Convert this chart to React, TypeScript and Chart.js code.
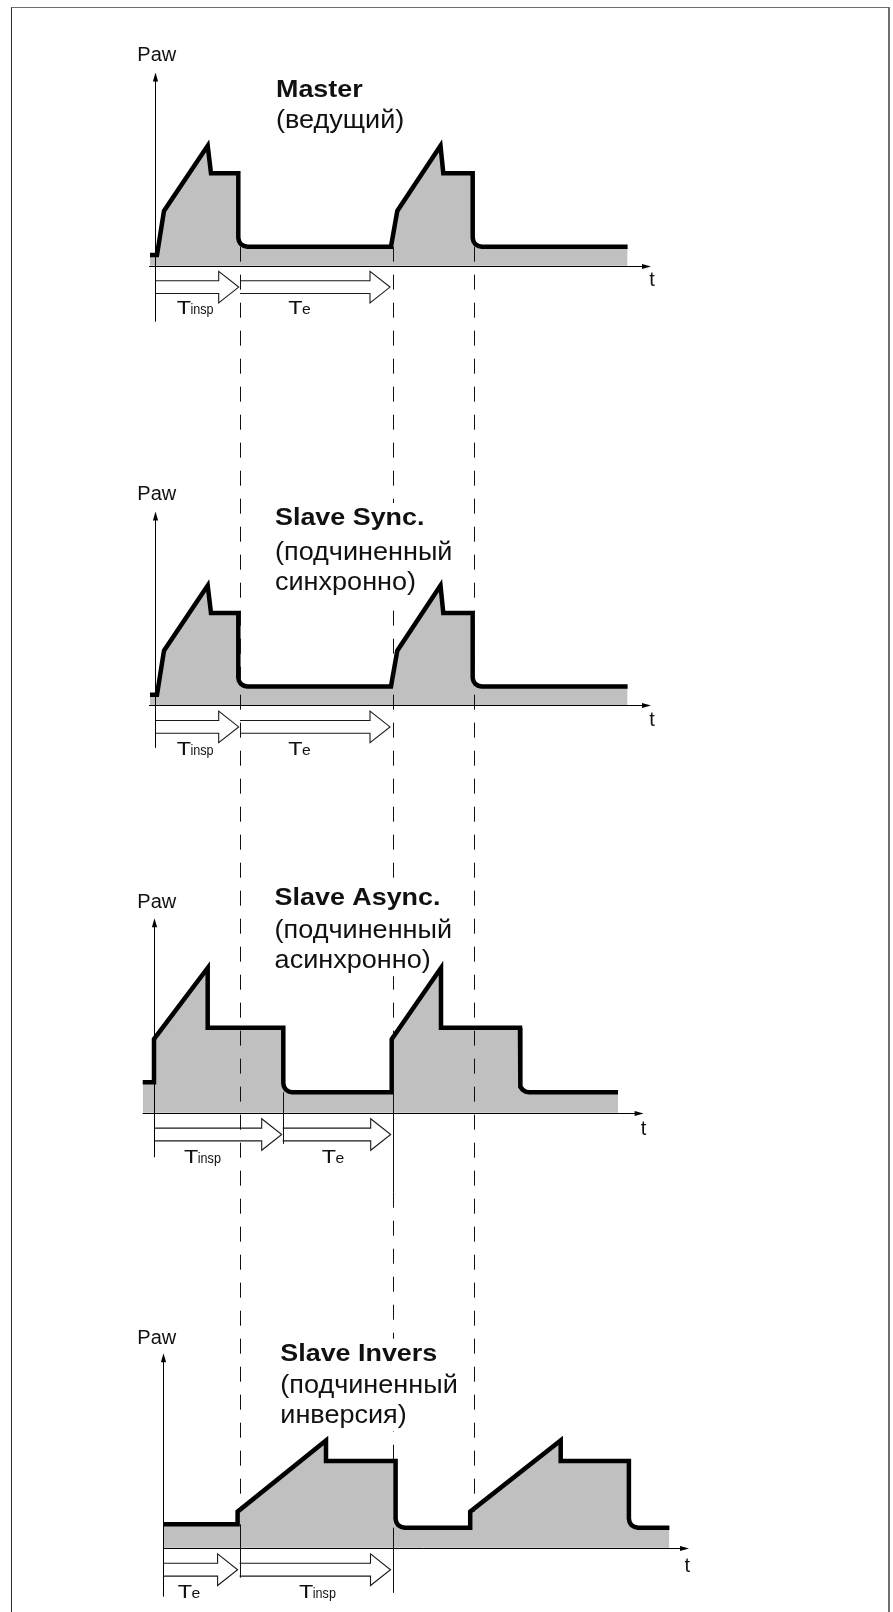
import React, { useEffect, useRef } from "react";
import { Chart, registerables } from "chart.js";

Chart.register(...registerables);

// ---------------- DATA (time t and airway pressure Paw, arbitrary units) ----------------
const masterTime = [-0.05, 0.02, 0.09, 0.527, 0.56, 0.833, 0.833, 0.84, 0.859, 0.889, 0.923, 2.36, 2.423, 2.855, 2.883, 3.177, 3.177, 3.184, 3.203, 3.233, 3.267, 4.726];
const masterPaw = [2.7, 2.7, 13.7, 30.0, 23.1, 23.1, 7.0, 6.15, 5.4, 4.93, 4.75, 4.75, 13.7, 30.0, 23.1, 23.1, 7.0, 6.15, 5.4, 4.93, 4.75, 4.75];

const slaveSyncTime = [-0.05, 0.02, 0.09, 0.527, 0.56, 0.833, 0.833, 0.84, 0.859, 0.889, 0.923, 2.36, 2.423, 2.855, 2.883, 3.177, 3.177, 3.184, 3.203, 3.233, 3.267, 4.726];
const slaveSyncPaw = [2.7, 2.7, 13.7, 30.0, 23.1, 23.1, 7.0, 6.15, 5.4, 4.93, 4.75, 4.75, 13.7, 30.0, 23.1, 23.1, 7.0, 6.15, 5.4, 4.93, 4.75, 4.75];

const slaveAsyncTime = [-0.123, -0.01, -0.01, 0.527, 0.527, 1.283, 1.283, 1.29, 1.309, 1.339, 1.373, 2.367, 2.367, 2.86, 2.86, 3.65, 3.65, 3.657, 3.676, 3.706, 3.74, 4.63];
const slaveAsyncPaw = [7.6, 7.6, 18.4, 36.2, 21.25, 21.25, 7.35, 6.5, 5.75, 5.28, 5.1, 5.1, 18.4, 36.2, 21.25, 21.25, 7.35, 6.5, 5.75, 5.28, 5.1, 5.1];

const slaveInversTime = [0.083, 0.826, 0.826, 1.71, 1.71, 2.406, 2.406, 2.413, 2.432, 2.462, 2.496, 3.152, 3.152, 4.057, 4.057, 4.739, 4.739, 4.746, 4.765, 4.795, 4.829, 5.144];
const slaveInversPaw = [5.85, 5.85, 9.0, 26.8, 21.7, 21.7, 7.25, 6.4, 5.65, 5.18, 5.0, 5.0, 9.0, 26.8, 21.7, 21.7, 7.25, 6.4, 5.65, 5.18, 5.0, 5.0];

// Phase spans shown by the hollow arrows: [start, end] in time units
const masterSpans = [[0.01, 0.837], [0.85, 2.35]];
const slaveSyncSpans = [[0.01, 0.837], [0.85, 2.35]];
const slaveAsyncSpans = [[-0.01, 1.267], [1.277, 2.357]];
const slaveInversSpans = [[0.083, 0.826], [0.846, 2.355]];

// Span labels: main letter + small suffix
const masterSpanLabels = [["T", "insp"], ["T", "e"]];
const slaveSyncSpanLabels = [["T", "insp"], ["T", "e"]];
const slaveAsyncSpanLabels = [["T", "insp"], ["T", "e"]];
const slaveInversSpanLabels = [["T", "e"], ["T", "insp"]];

// Panel titles
const panelTitles = ["Master", "Slave Sync.", "Slave Async.", "Slave Invers"];
const panelSubtitles = [
  ["(ведущий)"],
  ["(подчиненный", "синхронно)"],
  ["(подчиненный", "асинхронно)"],
  ["(подчиненный", "инверсия)"],
];
const yAxisLabel = "Paw";
const xAxisLabel = "t";

// Vertical synchronisation guides: time, from [panel, Paw] to [panel, Paw], dashed?
const guideTimes = [0.85, 2.375, 3.185, 1.277];
const guideSegments = [
  { g: 0, from: [0, 4.75], to: [3, 9.0], dashed: true },
  { g: 0, from: [3, 5.85], to: [3, -7.5], dashed: false },
  { g: 1, from: [0, 4.75], to: [2, 18.4], dashed: true },
  { g: 1, from: [2, 5.1], to: [2, -20], dashed: false },
  { g: 1, from: [2, -20], to: [3, 21.7], dashed: true },
  { g: 1, from: [3, 5.0], to: [3, -11.3], dashed: false },
  { g: 2, from: [0, 4.75], to: [3, 9.0], dashed: true },
  { g: 3, from: [2, 5.1], to: [2, -7.8], dashed: false },
];

// ---------------- LAYOUT ----------------
const W = 893;
const H = 1612;
const PX_PER_T = 100;
const T_AT_LEFT = -1.55;
const PX_PER_P = 4;
const panelAxisPx = [265.7, 705.5, 1112.7, 1547.7];

const panelLayout = [
  { yAxisT: 0, axisTopP: 48.3, axisBottomP: -14, xAxisFrom: -0.06, xAxisTo: 4.96, arrowP: -5.35, labelP: -12.15, labelT: [0.217, 1.333], tLabel: [4.943, -5.1], pawP: 51.2, titleT: 1.21, titleP: [42.25, 34.35] },
  { yAxisT: 0, axisTopP: 48.5, axisBottomP: -10.6, xAxisFrom: -0.06, xAxisTo: 4.96, arrowP: -5.35, labelP: -12.3, labelT: [0.217, 1.333], tLabel: [4.943, -5.1], pawP: 51.4, titleT: 1.2, titleP: [45.1, 36.4, 28.9] },
  { yAxisT: -0.01, axisTopP: 48.6, axisBottomP: -11.15, xAxisFrom: -0.123, xAxisTo: 4.886, arrowP: -5.45, labelP: -12.5, labelT: [0.29, 1.667], tLabel: [4.857, -5.6], pawP: 51.25, titleT: 1.196, titleP: [51.9, 43.6, 36.1] },
  { yAxisT: 0.083, axisTopP: 48.6, axisBottomP: -12.25, xAxisFrom: 0.083, xAxisTo: 5.34, arrowP: -5.5, labelP: -12.65, labelT: [0.227, 1.44], tLabel: [5.295, -6.0], pawP: 50.85, titleT: 1.253, titleP: [46.75, 38.6, 31.1] },
];

const FONT = "'Liberation Sans', Arial, Helvetica, sans-serif";
const INK = "#111";
const FILL_GRAY = "#c0c0c0";
const TITLE_FONT = `bold 24px ${FONT}`;
const TITLE_SX = 1.12;
const SUB_FONT = `26px ${FONT}`;
const SUB_SX = 1.04;

const panelTimes = [masterTime, slaveSyncTime, slaveAsyncTime, slaveInversTime];
const panelPaws = [masterPaw, slaveSyncPaw, slaveAsyncPaw, slaveInversPaw];
const panelSpans = [masterSpans, slaveSyncSpans, slaveAsyncSpans, slaveInversSpans];
const panelSpanLabels = [masterSpanLabels, slaveSyncSpanLabels, slaveAsyncSpanLabels, slaveInversSpanLabels];

function drawText(ctx, str, x, y, font, sx) {
  ctx.save();
  ctx.font = font;
  ctx.translate(x, y);
  ctx.scale(sx, 1);
  ctx.fillText(str, 0, 0);
  const w = ctx.measureText(str).width * sx;
  ctx.restore();
  return w;
}

function textWidth(ctx, str, font, sx) {
  ctx.save();
  ctx.font = font;
  const w = ctx.measureText(str).width * sx;
  ctx.restore();
  return w;
}

const diagramPlugin = {
  id: "ventDiagram",
  afterDatasetsDraw(chart) {
    const ctx = chart.ctx;
    const xs = chart.scales.x;
    const X = (t) => xs.getPixelForValue(t);
    const Y = (i, p) => chart.scales["y" + i].getPixelForValue(p);
    const crisp = (v) => Math.round(v) + 0.5;

    ctx.save();
    ctx.textBaseline = "alphabetic";
    ctx.textAlign = "left";

    panelLayout.forEach((L, i) => {
      // hollow span arrows
      const yc = Y(i, L.arrowP);
      ctx.strokeStyle = "#1a1a1a";
      ctx.lineWidth = 1.1;
      ctx.setLineDash([]);
      panelSpans[i].forEach(([a, b]) => {
        const x0 = X(a);
        const x1 = X(b);
        const bh = 6.4, hh = 15.8, hl = 20;
        ctx.beginPath();
        ctx.moveTo(x0, yc - bh);
        ctx.lineTo(x1 - hl, yc - bh);
        ctx.lineTo(x1 - hl, yc - hh);
        ctx.lineTo(x1, yc);
        ctx.lineTo(x1 - hl, yc + hh);
        ctx.lineTo(x1 - hl, yc + bh);
        ctx.lineTo(x0, yc + bh);
        ctx.fillStyle = "#fff";
        ctx.fill();
        ctx.stroke();
      });

      // axes
      ctx.strokeStyle = "#000";
      ctx.fillStyle = "#000";
      ctx.lineWidth = 1;
      const ax = crisp(X(L.yAxisT));
      const yTop = Y(i, L.axisTopP);
      ctx.beginPath();
      ctx.moveTo(ax, Y(i, L.axisBottomP));
      ctx.lineTo(ax, yTop + 6);
      ctx.stroke();
      ctx.beginPath();
      ctx.moveTo(ax, yTop);
      ctx.lineTo(ax - 2.6, yTop + 9);
      ctx.lineTo(ax + 2.6, yTop + 9);
      ctx.closePath();
      ctx.fill();

      const ay = crisp(Y(i, 0));
      const xEnd = X(L.xAxisTo);
      ctx.beginPath();
      ctx.moveTo(X(L.xAxisFrom), ay);
      ctx.lineTo(xEnd - 6, ay);
      ctx.stroke();
      ctx.beginPath();
      ctx.moveTo(xEnd, ay);
      ctx.lineTo(xEnd - 9, ay - 2.6);
      ctx.lineTo(xEnd - 9, ay + 2.6);
      ctx.closePath();
      ctx.fill();
    });

    // title blocks: guides are hidden behind the title text
    const blocks = panelLayout.map((L, i) => {
      const tx = X(L.titleT);
      let w = textWidth(ctx, panelTitles[i], TITLE_FONT, TITLE_SX);
      panelSubtitles[i].forEach((line) => {
        w = Math.max(w, textWidth(ctx, line, SUB_FONT, SUB_SX));
      });
      const top = Y(i, L.titleP[0]) - 22;
      const bottom = Y(i, L.titleP[L.titleP.length - 1]) + 8;
      return [tx - 3, top, w + 6, bottom - top];
    });

    ctx.save();
    ctx.beginPath();
    ctx.rect(0, 0, chart.width, chart.height);
    blocks.forEach(([bx, by, bw, bh]) => ctx.rect(bx, by, bw, bh));
    ctx.clip("evenodd");

    // synchronisation guides
    ctx.strokeStyle = "#111";
    ctx.lineWidth = 1;
    guideSegments.forEach((s) => {
      ctx.setLineDash(s.dashed ? [15, 13] : []);
      const x = crisp(X(guideTimes[s.g]));
      ctx.beginPath();
      ctx.moveTo(x, Y(s.from[0], s.from[1]));
      ctx.lineTo(x, Y(s.to[0], s.to[1]));
      ctx.stroke();
    });
    ctx.setLineDash([]);
    ctx.restore();

    // texts
    ctx.fillStyle = INK;
    panelLayout.forEach((L, i) => {
      drawText(ctx, yAxisLabel, X(-0.177), Y(i, L.pawP), `20px ${FONT}`, 1);
      drawText(ctx, xAxisLabel, X(L.tLabel[0]), Y(i, L.tLabel[1]), `20px ${FONT}`, 1);

      const ly = Y(i, L.labelP);
      panelSpanLabels[i].forEach(([main, sub], k) => {
        const x0 = X(L.labelT[k]);
        const w = drawText(ctx, main, x0, ly, `18px ${FONT}`, 1.3);
        drawText(ctx, sub, x0 + w - 0.5, ly, `15px ${FONT}`, sub === "e" ? 1.05 : 0.84);
      });

      const tx = X(L.titleT);
      drawText(ctx, panelTitles[i], tx, Y(i, L.titleP[0]), TITLE_FONT, TITLE_SX);
      panelSubtitles[i].forEach((line, k) => {
        drawText(ctx, line, tx, Y(i, L.titleP[k + 1]), SUB_FONT, SUB_SX);
      });
    });

    ctx.restore();
  },
};

function buildConfig() {
  const scales: any = {
    x: { type: "linear", display: false, min: T_AT_LEFT, max: T_AT_LEFT + W / PX_PER_T },
  };
  panelAxisPx.forEach((axisPx, i) => {
    const min = (axisPx - H) / PX_PER_P;
    scales["y" + i] = { type: "linear", display: false, min, max: min + H / PX_PER_P };
  });

  const datasets = panelTimes.map((times, i) => ({
    label: panelTitles[i],
    data: times.map((t, k) => ({ x: t, y: panelPaws[i][k] })),
    yAxisID: "y" + i,
    borderColor: "#000",
    borderWidth: 4.5,
    backgroundColor: FILL_GRAY,
    fill: "origin",
    pointRadius: 0,
    tension: 0,
    borderJoinStyle: "miter",
    borderCapStyle: "butt",
  }));

  return {
    type: "line",
    data: { datasets },
    options: {
      animation: false,
      responsive: false,
      devicePixelRatio: 1,
      events: [],
      layout: { padding: 0 },
      plugins: { legend: { display: false }, tooltip: { enabled: false }, title: { display: false } },
      scales,
    },
    plugins: [diagramPlugin],
  };
}

export default function App() {
  const ref = useRef<HTMLCanvasElement>(null);
  useEffect(() => {
    const chart = new Chart(ref.current as HTMLCanvasElement, buildConfig() as any);
    return () => chart.destroy();
  }, []);
  return (
    <div style={{ position: "absolute", left: 0, top: 0, width: W, height: H, overflow: "hidden", background: "#fff" }}>
      <div
        style={{
          position: "absolute",
          left: 11,
          top: 7,
          width: 879,
          height: H - 7,
          boxSizing: "border-box",
          borderTop: "1.5px solid #6e6e6e",
          borderLeft: "1.5px solid #2a2a2a",
          borderRight: "2px solid #6e6e6e",
        }}
      />
      <canvas ref={ref} width={W} height={H} style={{ position: "absolute", left: 0, top: 0, width: W, height: H, display: "block" }} />
    </div>
  );
}
